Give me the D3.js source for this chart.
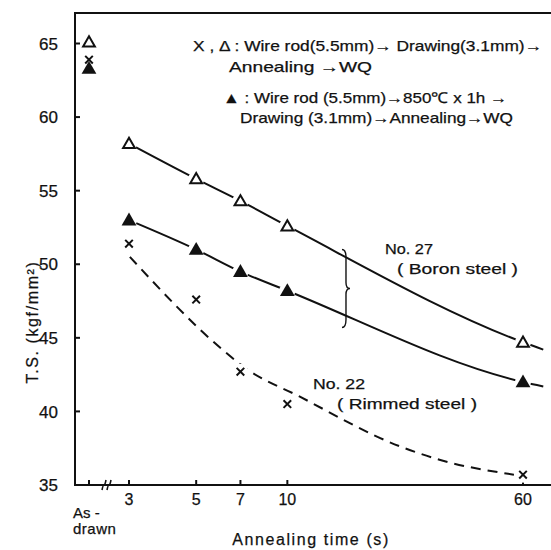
<!DOCTYPE html>
<html>
<head>
<meta charset="utf-8">
<script src="https://cdnjs.cloudflare.com/ajax/libs/d3/7.8.5/d3.min.js"></script>
<style>
  body { margin: 0; background: #fff; }
  svg { display: block; }
  text { font-family: "Liberation Sans", Arial, sans-serif; fill: #111; stroke: #111; stroke-width: 0.25; }
</style>
</head>
<body>
<svg id="svg" width="551" height="550"></svg>
<script>
// Data
const times = [3, 5, 7, 10, 60];
const openTri = [58.2, 55.8, 54.3, 52.6, 44.7];     // X,Δ route (No.27)
const filledTri = [53.0, 51.0, 49.5, 48.2, 42.0];   // ▲ route (No.27)
const crosses = [51.4, 47.6, 42.7, 40.5, 35.7];     // X route (No.22)
const asDrawnKinds = ['open', 'cross', 'filled'];
const asDrawnValues = [65.1, 63.9, 63.3];

// curves continue a little past the last point
const lineEndTime = 70;
const openTriEnd = 44.2;
const filledTriEnd = 41.7;

// dashed trend for rimmed steel (drawn by hand in the original)
const rimmedTimes = [3.02, 6.1, 7.2, 11, 23.7, 32, 56];
const rimmedValues = [50.5, 44.2, 43.0, 41.0, 37.6, 36.7, 35.7];

// brace between the two No.27 lines
const braceTime = 15.5;
const braceTop = 51.0;
const braceBottom = 45.7;

const xTicks = [3, 5, 7, 10, 60];
const yTicks = [35, 40, 45, 50, 55, 60, 65];

const svg = d3.select('#svg');
const plotLeft = 75, plotRight = 551, plotTop = 13, plotBottom = 485;
const asDrawnX = 89;

const x = d3.scaleLog().domain([3, 60]).range([129, 523]);
const y = d3.scaleLinear().domain([35, 65]).range([plotBottom, 43.5]);

// Frame
const gAxis = svg.append('g').attr('stroke', '#111').attr('stroke-width', 2).attr('fill', 'none');
gAxis.append('path').attr('d', `M${plotRight},${plotTop}H${plotLeft}V${plotBottom}H${plotRight}`);

// y ticks (inside)
gAxis.selectAll('line.yt').data(yTicks.slice(1)).enter().append('line')
  .attr('x1', plotLeft).attr('x2', plotLeft + 5)
  .attr('y1', (d) => y(d)).attr('y2', (d) => y(d));
svg.selectAll('text.yl').data(yTicks).enter().append('text')
  .attr('x', 58).attr('y', (d) => y(d)).attr('dy', '0.36em')
  .attr('text-anchor', 'end').attr('font-size', 17)
  .text((d) => d);

// x ticks (inside)
gAxis.selectAll('line.xt').data(xTicks).enter().append('line')
  .attr('x1', (d) => x(d)).attr('x2', (d) => x(d))
  .attr('y1', plotBottom).attr('y2', plotBottom - 5);
gAxis.append('line').attr('x1', asDrawnX).attr('x2', asDrawnX).attr('y1', plotBottom).attr('y2', plotBottom - 5);
// axis break
[104, 109].forEach((cx) => {
  gAxis.append('path').attr('stroke-width', 1.6)
    .attr('d', `M${cx - 2},${plotBottom + 5} Q${cx - 1},${plotBottom} ${cx},${plotBottom} Q${cx + 1},${plotBottom} ${cx + 2},${plotBottom - 5}`);
});
svg.selectAll('text.xl').data(xTicks).enter().append('text')
  .attr('x', (d) => x(d)).attr('y', plotBottom + 20)
  .attr('text-anchor', 'middle').attr('font-size', 16)
  .text((d) => d);
svg.append('text').attr('x', 73).attr('y', 518).attr('font-size', 15).text('As -');
svg.append('text').attr('x', 73).attr('y', 534).attr('font-size', 15).attr('letter-spacing', 0.5).text('drawn');

svg.append('text').attr('x', 311).attr('y', 545).attr('text-anchor', 'middle')
  .attr('font-size', 16).attr('letter-spacing', 1.6).text('Annealing time (s)');
svg.append('text').attr('transform', 'translate(38,322) rotate(-90)')
  .attr('text-anchor', 'middle').attr('font-size', 16).attr('letter-spacing', 1.6)
  .text('T.S.  (kgf/mm²)');

// Lines
const pts = (vals, endV) => {
  const p = times.map((t, i) => ({ t, v: vals[i] }));
  if (endV != null) p.push({ t: lineEndTime, v: endV });
  return p;
};
const line = d3.line().x((d) => x(d.t)).y((d) => y(d.v)).curve(d3.curveMonotoneX);
const gLines = svg.append('g').attr('fill', 'none').attr('stroke', '#111').attr('stroke-width', 2);
gLines.append('path').attr('d', line(pts(openTri, openTriEnd)));
gLines.append('path').attr('d', line(pts(filledTri, filledTriEnd)));
gLines.append('path').attr('stroke-dasharray', '10,7')
  .attr('d', line(rimmedTimes.map((t, i) => ({ t, v: rimmedValues[i] }))));

// brace
const bx = x(braceTime), by1 = y(braceTop), by2 = y(braceBottom), bm = (by1 + by2) / 2;
svg.append('path').attr('fill', 'none').attr('stroke', '#111').attr('stroke-width', 1.4)
  .attr('d', `M${bx - 3},${by1} Q${bx + 1},${by1} ${bx + 1},${by1 + 8} L${bx + 1},${bm - 6} Q${bx + 1},${bm} ${bx + 5},${bm}`
    + ` Q${bx + 1},${bm} ${bx + 1},${bm + 6} L${bx + 1},${by2 - 8} Q${bx + 1},${by2} ${bx - 3},${by2}`);

// Markers
const tri = d3.symbol().type(d3.symbolTriangle);
function marker(g, kind, px, py, halo) {
  if (halo) g.append('circle').attr('cx', px).attr('cy', py).attr('r', 8).attr('fill', '#fff');
  if (kind === 'open') {
    g.append('path').attr('transform', `translate(${px},${py + 1})`).attr('d', tri.size(60)())
      .attr('fill', '#fff').attr('stroke', '#111').attr('stroke-width', 2);
  } else if (kind === 'filled') {
    g.append('path').attr('transform', `translate(${px},${py + 1})`).attr('d', tri.size(95)())
      .attr('fill', '#111');
  } else {
    const s = 3.8;
    g.append('path').attr('transform', `translate(${px},${py})`)
      .attr('d', `M${-s},${-s}L${s},${s}M${-s},${s}L${s},${-s}`)
      .attr('stroke', '#111').attr('stroke-width', 2);
  }
}
const gMarks = svg.append('g');
times.forEach((t, i) => {
  marker(gMarks, 'open', x(t), y(openTri[i]), true);
  marker(gMarks, 'filled', x(t), y(filledTri[i]), true);
  marker(gMarks, 'cross', x(t), y(crosses[i]), true);
});
asDrawnKinds.forEach((k, i) => marker(gMarks, k, asDrawnX, y(asDrawnValues[i]), false));

// Annotations
const note = (tx, ty, str, len) => {
  const t = svg.append('text').attr('x', tx).attr('y', ty).attr('font-size', 15).text(str);
  if (len) t.attr('textLength', len).attr('lengthAdjust', 'spacingAndGlyphs');
};
note(193, 51, 'X , Δ : Wire rod(5.5mm)→ Drawing(3.1mm)→', 349);
note(229, 72, 'Annealing →WQ', 143);
note(223, 103, '▲ : Wire rod (5.5mm)→850℃  x 1h →', 284);
note(240, 123, 'Drawing (3.1mm)→Annealing→WQ', 273);

note(385, 254, 'No. 27', 48);
note(397, 274, '( Boron steel )', 121);
note(313, 389, 'No. 22', 52);
note(337, 409, '( Rimmed steel )', 140);
</script>
</body>
</html>
